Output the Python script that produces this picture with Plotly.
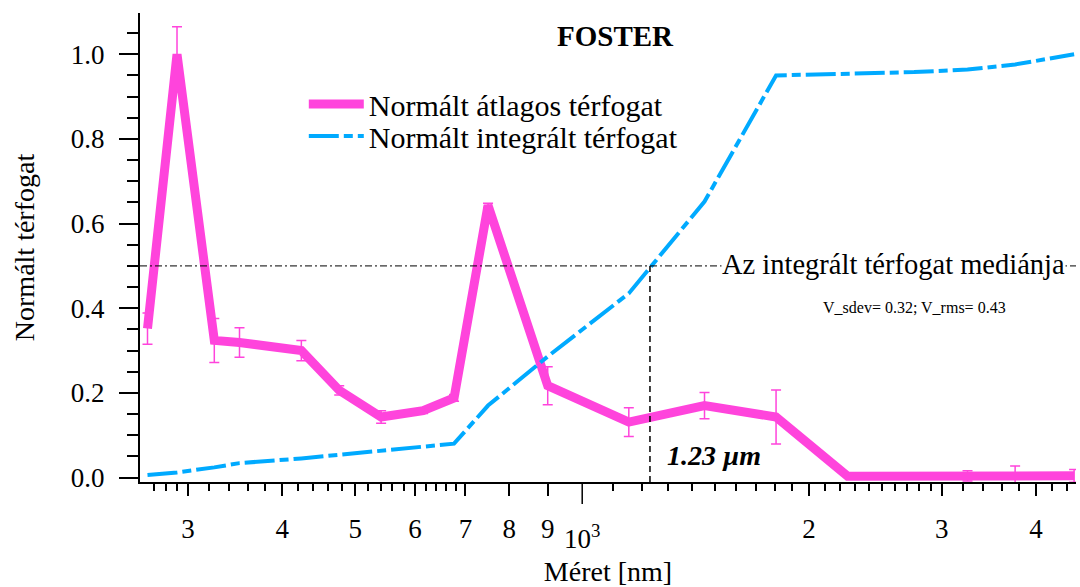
import numpy as np
import plotly.graph_objects as go

# ---------------- data ----------------
size_nm = [265, 290, 325, 351, 424, 476, 541, 615, 676, 750,
           900, 1153, 1453, 1808, 2250, 2757, 3245, 3753, 4494]
mean_vol = [0.352, 1.000, 0.324, 0.319, 0.300, 0.206, 0.143, 0.158, 0.188, 0.643,
            0.217, 0.131, 0.170, 0.143, 0.003, 0.003, 0.004, 0.005, 0.004]
mean_err = [0.037, 0.065, 0.052, 0.035, 0.024, 0.011, 0.015, 0.007, 0.008, 0.005,
            0.045, 0.034, 0.031, 0.064, 0.000, 0.003, 0.012, 0.022, 0.015]
integ_vol = [0.006, 0.012, 0.024, 0.034, 0.045, 0.054, 0.064, 0.074, 0.080, 0.170,
             0.286, 0.435, 0.652, 0.950, 0.954, 0.958, 0.964, 0.976, 1.000]

median_nm = 1230
median_level = 0.5
v_sdev = 0.32
v_rms = 0.43

x_major = [300, 400, 500, 600, 700, 800, 900, 2000, 3000, 4000]
x_major_text = ["3", "4", "5", "6", "7", "8", "9", "2", "3", "4"]
x_decade = 1000
x_minor = ([270, 280, 290] + list(range(320, 400, 20)) + list(range(420, 500, 20)) +
           list(range(520, 600, 20)) + list(range(620, 700, 20)) +
           list(range(1100, 2000, 100)) + list(range(2100, 3000, 100)) +
           list(range(3200, 4000, 200)) + [4200, 4400])
y_major = [0.0, 0.2, 0.4, 0.6, 0.8, 1.0]

# ---------------- styling ----------------
PINK = "#FF44DC"
BLUE = "#00AAFF"
FONT = "Liberation Serif"
W, H = 1080, 587
ML, MR, MT, MB = 140, 4, 13, 105
x_range = [np.log10(259), np.log10(4520)]
y_range = [-0.0106, 1.0976]
plot_h = H - MT - MB

fig = go.Figure()

fig.add_trace(go.Scatter(
    x=size_nm, y=mean_vol, mode="lines",
    name="Normált átlagos térfogat", legend="legend",
    line=dict(color=PINK, width=9),
    error_y=dict(type="data", array=mean_err, color=PINK, thickness=1.5, width=5),
))
fig.add_trace(go.Scatter(
    x=size_nm, y=integ_vol, mode="lines",
    name="Normált integrált térfogat", legend="legend2",
    line=dict(color=BLUE, width=4, dash="30px,5px,9px,5px"),
))
# vertical median marker
fig.add_trace(go.Scatter(
    x=[median_nm, median_nm], y=[y_range[0], median_level], mode="lines",
    line=dict(color="black", width=1.5, dash="6px,4px"),
    showlegend=False, hoverinfo="skip",
))

# horizontal median line
fig.add_shape(type="line", xref="paper", yref="y", x0=0, x1=1,
              y0=median_level, y1=median_level,
              line=dict(color="black", width=1, dash="7px,3px,2px,3px"))

# long tick at 10^3
px1000 = (np.log10(x_decade) - x_range[0]) / (x_range[1] - x_range[0])
fig.add_shape(type="line", xref="paper", yref="paper", x0=px1000, x1=px1000,
              y0=0, y1=-22 / plot_h, line=dict(color="black", width=1.5))

fig.add_annotation(xref="x", yref="paper", x=np.log10(x_decade), y=-55 / plot_h,
                   yanchor="middle",
                   text="10<sup>3</sup>", showarrow=False,
                   font=dict(family=FONT, size=27, color="black"))

fig.add_annotation(xref="paper", yref="paper", x=0.5085, y=0.950,
                   text="<b>FOSTER</b>", showarrow=False, yanchor="middle",
                   font=dict(family=FONT, size=29, color="black"))

fig.add_annotation(xref="x", yref="y", x=np.log10(1530), y=median_level + 0.003,
                   xanchor="left", yanchor="middle",
                   text="Az integrált térfogat mediánja", showarrow=False,
                   bgcolor="white", borderpad=0,
                   font=dict(family=FONT, size=28.5, color="black"))

fig.add_annotation(xref="x", yref="y", x=np.log10(2757), y=0.402,
                   text=f"V_sdev= {v_sdev:.2f}; V_rms= {v_rms:.2f}", showarrow=False,
                   font=dict(family=FONT, size=16, color="black"))

fig.add_annotation(xref="x", yref="y", x=np.log10(1286), y=0.052,
                   xanchor="left", yanchor="middle",
                   text=f"<b><i>{median_nm/1000:.2f} µm</i></b>", showarrow=False,
                   font=dict(family=FONT, size=28, color="black"))

legend_common = dict(xanchor="left", yanchor="middle", bgcolor="rgba(0,0,0,0)",
                     font=dict(family=FONT, size=30, color="black"), itemwidth=55)
fig.update_layout(
    width=W, height=H,
    margin=dict(l=ML, r=MR, t=MT, b=MB, autoexpand=False),
    paper_bgcolor="white", plot_bgcolor="white",
    font=dict(family=FONT, size=27, color="black"),
    showlegend=True,
    legend=dict(x=0.175, y=(H - MB - 104) / plot_h, **legend_common),
    legend2=dict(x=0.175, y=(H - MB - 136) / plot_h, **legend_common),
)

fig.update_xaxes(
    type="log", range=x_range,
    showgrid=False, zeroline=False,
    showline=True, linecolor="black", linewidth=2,
    tickmode="array", tickvals=x_major, ticktext=x_major_text,
    ticks="outside", ticklen=12, tickwidth=1.5, tickcolor="black",
    ticklabelstandoff=10,
    tickfont=dict(family=FONT, size=27),
    minor=dict(tickmode="array", tickvals=x_minor, ticks="outside",
               ticklen=7, tickwidth=1.5, tickcolor="black", showgrid=False),
    title=dict(text="Méret [nm]", font=dict(family=FONT, size=28), standoff=36),
)
fig.update_yaxes(
    range=y_range,
    showgrid=False, zeroline=False,
    showline=True, linecolor="black", linewidth=2,
    tickmode="array", tickvals=y_major, tickformat=".1f",
    ticks="outside", ticklen=19, tickwidth=2, tickcolor="black",
    ticklabelstandoff=9,
    tickfont=dict(family=FONT, size=27),
    minor=dict(dtick=0.05, tick0=0, ticks="outside", ticklen=11, tickwidth=2,
               tickcolor="black", showgrid=False),
    title=dict(text="Normált térfogat", font=dict(family=FONT, size=28), standoff=28),
)

fig.write_html("out.html")
